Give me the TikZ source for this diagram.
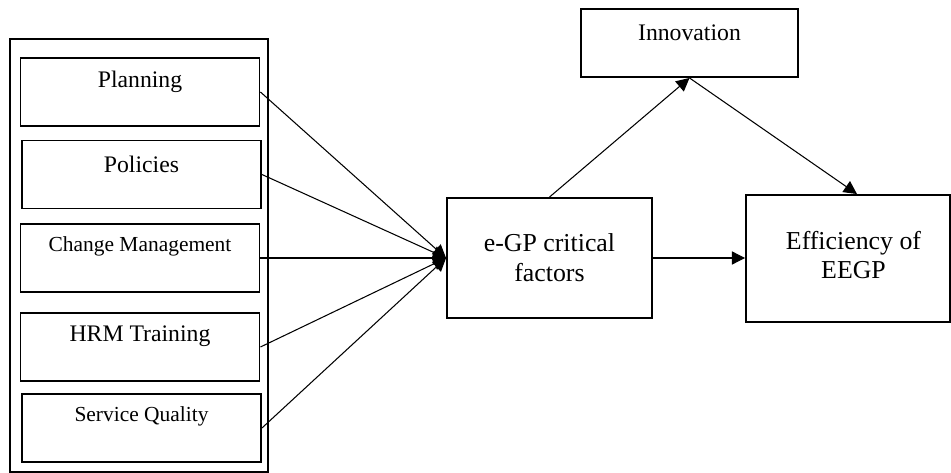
\documentclass[tikz,border=0pt]{standalone}
\usepackage{fontspec}
\setmainfont{Liberation Serif}
\usetikzlibrary{arrows.meta, calc}

\begin{document}
\begin{tikzpicture}[
  x=0.02cm, y=-0.02cm,
  factor/.style={rectangle, draw, line width=1.1pt, minimum width=4.78cm, minimum height=1.36cm, inner sep=0pt},
  toplabel/.style={font=\fontsize{13.5}{16}\selectfont, yshift=0.21cm},
  smalllabel/.style={font=\fontsize{12.2}{14}\selectfont, yshift=0.23cm},
  bigbox/.style={rectangle, draw, line width=1.1pt, align=center, font=\fontsize{14.7}{17}\selectfont, inner sep=0pt},
  arrow/.style={-{Triangle[length=7.5pt, width=7.5pt]}, line width=0.6pt}
]
\useasboundingbox (0,0) rectangle (951,473);

% factors on the left
\node[rectangle, draw, line width=1.1pt, minimum width=5.16cm, minimum height=8.66cm] (group) at (139,255.5) {};
\node[factor, label={[toplabel]center:Planning}] (plan) at (140,92) {};
\node[factor, label={[toplabel]center:Policies}] (pol) at (141.5,174.5) {};
\node[factor, label={[smalllabel]center:Change Management}] (chg) at (140,258) {};
\node[factor, label={[toplabel]center:HRM Training}] (hrm) at (140,347) {};
\node[factor, label={[smalllabel]center:Service Quality}] (serv) at (141.5,428) {};

% right side
\node[bigbox, minimum width=4.1cm, minimum height=2.4cm] (egp) at (549.5,258) {e-GP critical\\factors};
\node[factor, minimum width=4.34cm, label={[toplabel, yshift=-0.01cm]center:Innovation}] (innov) at (689.5,43) {};
\node[bigbox, minimum width=4.08cm, minimum height=2.54cm,
  label={[font=\fontsize{14.7}{17}\selectfont, align=center, xshift=0.11cm, yshift=0.07cm]center:Efficiency of\\EEGP}] (eff) at (848,258.5) {};

\foreach \n in {plan, pol, chg, hrm, serv}
  \draw[arrow] (\n.east) -- (egp.west);
\draw[arrow] (egp.north) -- (innov.south);
\draw[arrow] (innov.south) -- ($(eff.north)+(9,0)$);
\draw[arrow] (egp.east) -- (egp.east -| eff.west);

\end{tikzpicture}
\end{document}
